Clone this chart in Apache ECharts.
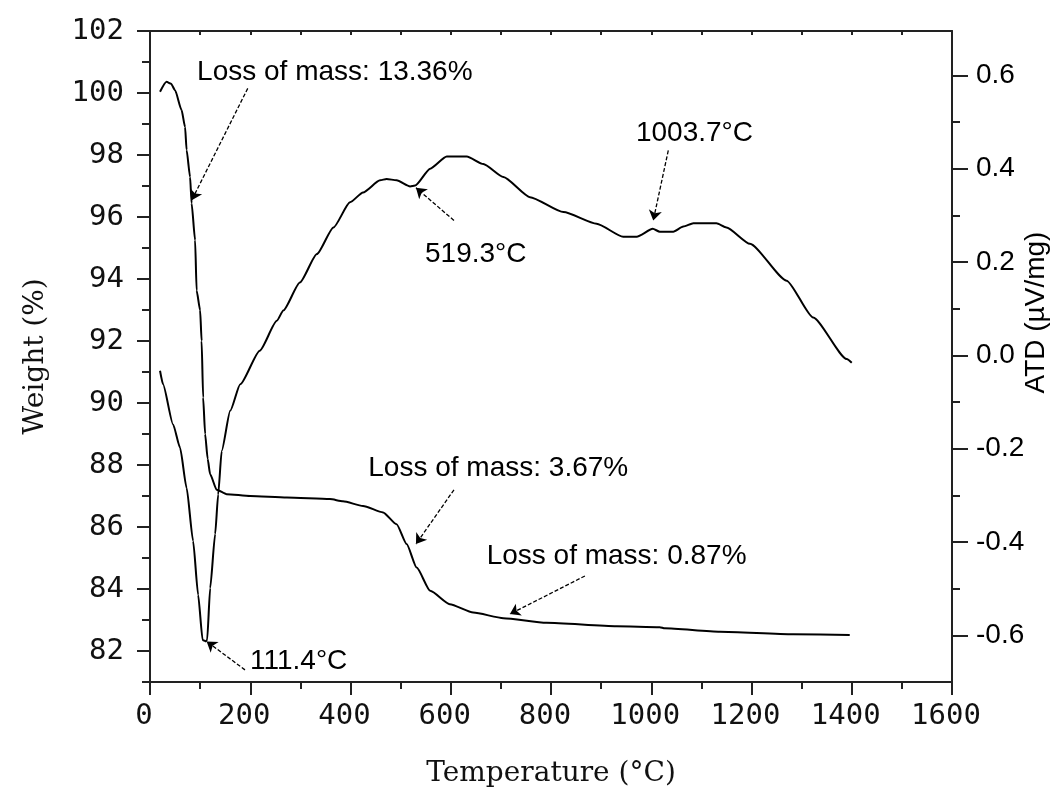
<!DOCTYPE html>
<html>
<head>
<meta charset="utf-8">
<script src="https://cdn.jsdelivr.net/npm/echarts@6/dist/echarts.min.js"></script>
<style>
html,body{margin:0;padding:0;background:#fff;}
#chart{width:1054px;height:797px;}
</style>
</head>
<body>
<div id="chart"></div>
<script>
// ---- data ----
var tgTemp   = [20, 33, 42, 50, 63, 70, 73, 80, 83, 90, 93, 100, 103, 106, 110, 115, 120, 133, 153, 200, 273, 359, 385, 425, 465, 492, 512, 532, 559, 598, 645, 705, 791, 931, 1017, 1027, 1137, 1283, 1396];
var tgWeight = [100.04, 100.36, 100.3, 100.09, 99.45, 98.9, 98.16, 97.29, 96.44, 95.25, 93.63, 92.99, 92.0, 90.18, 89.0, 88.2, 87.7, 87.2, 87.06, 87.0, 86.95, 86.9, 86.83, 86.68, 86.47, 86.09, 85.45, 84.69, 83.94, 83.51, 83.24, 83.06, 82.91, 82.80, 82.77, 82.73, 82.62, 82.54, 82.52];

var dtaTemp   = [20, 26, 46, 60, 73, 86, 96, 105, 111.4, 114, 120, 130, 136, 143, 160, 180, 219, 253, 266, 299, 333, 366, 399, 425, 459, 472, 492, 519, 529, 559, 592, 632, 665, 705, 758, 825, 891, 944, 971, 1003, 1017, 1044, 1064, 1084, 1130, 1150, 1197, 1270, 1323, 1390, 1400];
var dtaSignal = [-0.033, -0.062, -0.148, -0.198, -0.284, -0.398, -0.513, -0.61, -0.613, -0.61, -0.499, -0.383, -0.298, -0.205, -0.119, -0.062, 0.010, 0.074, 0.096, 0.156, 0.217, 0.274, 0.328, 0.349, 0.375, 0.378, 0.375, 0.362, 0.364, 0.400, 0.426, 0.426, 0.41, 0.382, 0.339, 0.307, 0.282, 0.254, 0.254, 0.271, 0.265, 0.265, 0.276, 0.283, 0.283, 0.274, 0.239, 0.16, 0.081, -0.008, -0.016];

// tick labels
var tempTicks      = [0, 200, 400, 600, 800, 1000, 1200, 1400, 1600];
var tempMinorTicks = [100, 300, 500, 700, 900, 1100, 1300, 1500];
var weightTicks      = [82, 84, 86, 88, 90, 92, 94, 96, 98, 100, 102];
var weightMinorTicks = [81, 83, 85, 87, 89, 91, 93, 95, 97, 99, 101];
var atdTicks      = [-0.6, -0.4, -0.2, 0.0, 0.2, 0.4, 0.6];
var atdMinorTicks = [-0.5, -0.3, -0.1, 0.1, 0.3, 0.5];

// annotations (text anchored on left-axis coordinates; arrows on each series' own axes)
var notes = [
  {text: 'Loss of mass: 13.36%', at: [94, 100.68]},
  {text: '111.4\u00B0C',          at: [199.5, 81.68]},
  {text: '519.3\u00B0C',          at: [548.6, 94.79]},
  {text: '1003.7\u00B0C',         at: [969.5, 98.70]},
  {text: 'Loss of mass: 3.67%',   at: [435.5, 87.91]},
  {text: 'Loss of mass: 0.87%',   at: [671.6, 85.04]}
];
var tgArrows = [
  [[195, 100.15], [83.2, 96.54]],
  [[606.4, 87.2], [530.6, 85.45]],
  [[867.7, 84.42], [718, 83.19]]
];
var dtaArrows = [
  [[189.5, -0.674], [113, -0.613]],
  [[606.4, 0.289], [530.6, 0.359]],
  [[1034, 0.439], [1004, 0.289]]
];

function zip(a, b) { return a.map(function (v, i) { return [v, b[i]]; }); }
function arrowData(list) {
  return list.map(function (p) { return [{coord: p[0]}, {coord: p[1]}]; });
}

var AX = '#222';
var monoFont = 'DejaVu Sans Mono';
var arial = 'Liberation Sans, Arial, sans-serif';
var serif = 'DejaVu Serif';

var chart = echarts.init(document.getElementById('chart'));
var option = {
  animation: false,
  backgroundColor: '#fff',
  grid: {left: 150, right: 102, top: 31, bottom: 115, containLabel: false, outerBoundsMode: 'none'},
  xAxis: [
    {
      type: 'value', min: 0, max: 1600, position: 'bottom',
      axisLine: {show: true, onZero: false, lineStyle: {color: AX, width: 2}},
      axisTick: {show: true, inside: false, length: 13, customValues: tempTicks, lineStyle: {color: AX, width: 2}},
      axisLabel: {show: true, customValues: tempTicks, margin: 20, color: '#111', fontFamily: monoFont, fontSize: 29,
        padding: [0, 12, 0, 0], formatter: function (v) { return String(v); }},
      splitLine: {show: false},
      name: 'Temperature (\u00B0C)', nameLocation: 'middle', nameGap: 78,
      nameTextStyle: {fontFamily: serif, fontSize: 28, color: '#111'}
    },
    {
      type: 'value', min: 0, max: 1600, position: 'bottom',
      axisLine: {show: false, onZero: false},
      axisTick: {show: true, inside: false, length: 7, customValues: tempMinorTicks, lineStyle: {color: AX, width: 2}},
      axisLabel: {show: false},
      splitLine: {show: false}
    },
    {
      type: 'value', min: 0, max: 1600, position: 'top',
      axisLine: {show: true, onZero: false, lineStyle: {color: AX, width: 2}},
      axisTick: {show: true, inside: true, length: 4, customValues: tempTicks.concat(tempMinorTicks), lineStyle: {color: AX, width: 2}},
      axisLabel: {show: false},
      splitLine: {show: false}
    }
  ],
  yAxis: [
    {
      type: 'value', min: 81, max: 102, position: 'left',
      axisLine: {show: true, onZero: false, lineStyle: {color: AX, width: 2}},
      axisTick: {show: true, inside: false, length: 13, customValues: weightTicks, lineStyle: {color: AX, width: 2}},
      axisLabel: {show: true, customValues: weightTicks, margin: 26, color: '#111', fontFamily: monoFont, fontSize: 29},
      splitLine: {show: false},
      name: 'Weight (%)', nameLocation: 'middle', nameGap: 100, nameRotate: 90,
      nameTextStyle: {fontFamily: serif, fontSize: 28, color: '#111'}
    },
    {
      type: 'value', min: 81, max: 102, position: 'left',
      axisLine: {show: false, onZero: false},
      axisTick: {show: true, inside: false, length: 8, customValues: weightMinorTicks, lineStyle: {color: AX, width: 2}},
      axisLabel: {show: false},
      splitLine: {show: false}
    },
    {
      type: 'value', min: -0.7, max: 0.695, position: 'right',
      axisLine: {show: true, onZero: false, lineStyle: {color: AX, width: 2}},
      axisTick: {show: true, inside: false, length: 16, customValues: atdTicks, lineStyle: {color: AX, width: 2}},
      axisLabel: {show: true, customValues: atdTicks, margin: 24, color: '#000', fontFamily: arial, fontSize: 28,
        formatter: function (v) { return (Math.abs(v) < 1e-9 ? 0 : v).toFixed(1); }},
      splitLine: {show: false},
      name: 'ATD (\u00B5V/mg)', nameLocation: 'middle', nameGap: 70, nameRotate: 90, nameMoveOverlap: false,
      nameTextStyle: {fontFamily: arial, fontSize: 28, color: '#000', padding: [0, 0, 0, 88]}
    },
    {
      type: 'value', min: -0.7, max: 0.695, position: 'right',
      axisLine: {show: false, onZero: false},
      axisTick: {show: true, inside: false, length: 8, customValues: atdMinorTicks, lineStyle: {color: AX, width: 2}},
      axisLabel: {show: false},
      splitLine: {show: false}
    }
  ],
  series: [
    {
      name: 'TG', type: 'line', xAxisIndex: 0, yAxisIndex: 0,
      data: zip(tgTemp, tgWeight), showSymbol: false, smooth: 0.2, smoothMonotone: 'x',
      lineStyle: {color: '#000', width: 2},
      markLine: {
        silent: true, symbol: ['none', 'arrow'], symbolSize: 10,
        label: {show: false},
        lineStyle: {color: '#000', width: 1.3, type: [4, 2]},
        data: arrowData(tgArrows)
      }
    },
    {
      name: 'ATD', type: 'line', xAxisIndex: 0, yAxisIndex: 2,
      data: zip(dtaTemp, dtaSignal), showSymbol: false, smooth: 0.2, smoothMonotone: 'x',
      lineStyle: {color: '#000', width: 2},
      markLine: {
        silent: true, symbol: ['none', 'arrow'], symbolSize: 10,
        label: {show: false},
        lineStyle: {color: '#000', width: 1.3, type: [4, 2]},
        data: arrowData(dtaArrows)
      }
    }
  ]
};
chart.setOption(option);

var g = notes.map(function (n) {
  var p = chart.convertToPixel({xAxisIndex: 0, yAxisIndex: 0}, n.at);
  return {
    type: 'text', x: p[0], y: p[1], silent: true,
    style: {text: n.text, fill: '#000', font: '28px ' + arial, textAlign: 'left', textVerticalAlign: 'middle'}
  };
});
chart.setOption({graphic: g});
</script>
</body>
</html>
